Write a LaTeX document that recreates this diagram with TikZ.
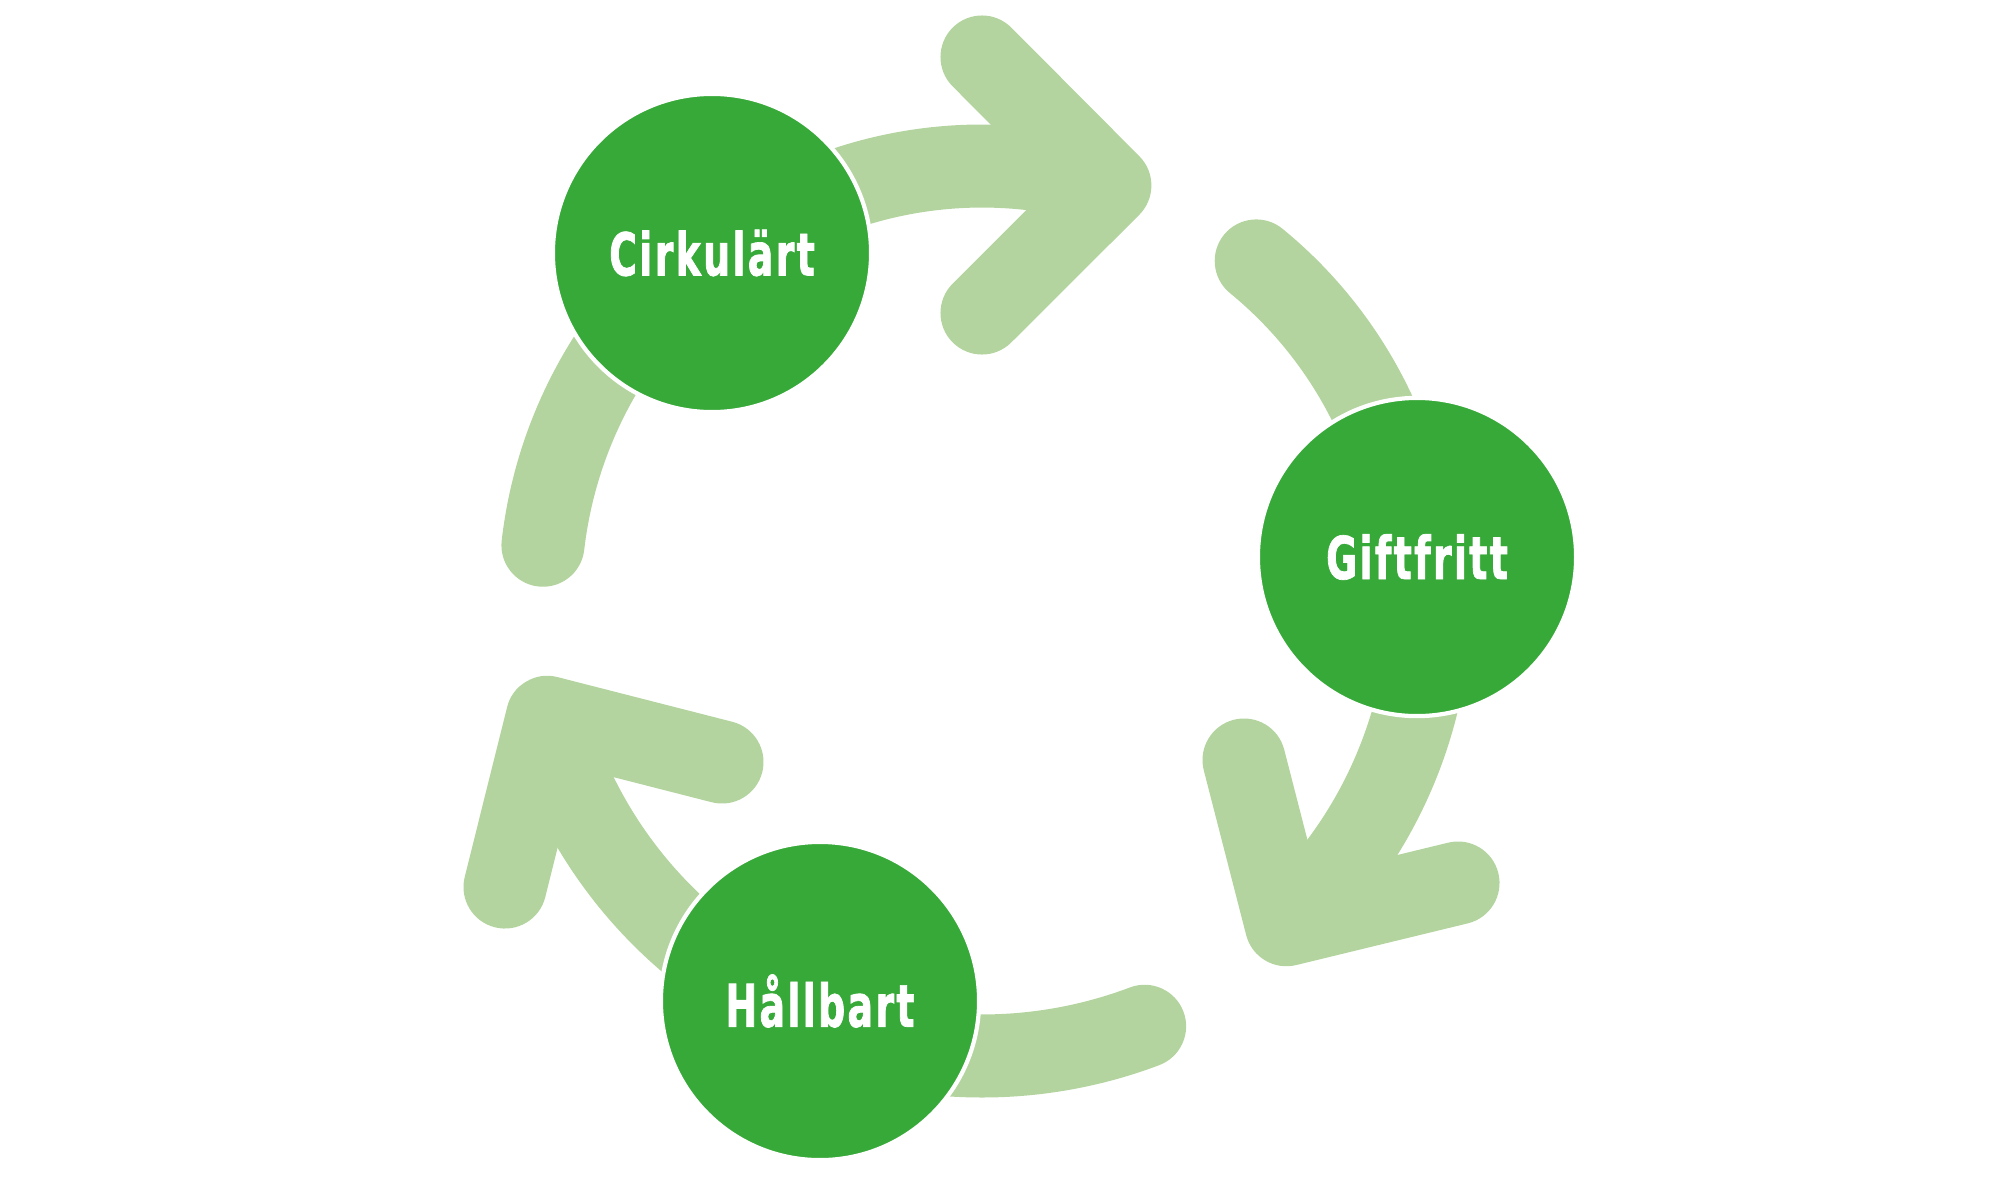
\documentclass[tikz,border=0pt]{standalone}
\usepackage{fontspec}
\usetikzlibrary{calc}
\newfontfamily\labfont[FakeStretch=0.64,LetterSpace=4,FakeBold=1.2]{DejaVu Sans}
\definecolor{nodegreen}{RGB}{54,169,56}
\definecolor{arcgreen}{RGB}{179,212,158}
\begin{document}
\begin{tikzpicture}[x=0.01cm,y=-0.01cm,
  band/.style={draw=arcgreen, line width=0.83cm},
  roundband/.style={band, line cap=round},
  headstyle/.style={band, line cap=round, line join=round},
  stage/.style={circle, fill=nodegreen, draw=white, line width=1.2pt,
    minimum size=3.18cm, inner sep=0pt, text=white,
    font=\labfont\bfseries\fontsize{16.8}{20}\selectfont}]
\useasboundingbox (0,0) rectangle (2000,1200);
\coordinate (O) at (982,596);
% arc start points
\coordinate (a0) at ($(O)+(232:430)$);
\coordinate (b0) at ($(O)+(309.3:433)$);
\coordinate (c0) at ($(O)+(355:448)$);
\coordinate (d0) at ($(O)+(69.3:460)$);
\coordinate (e0) at ($(O)+(111.8:452)$);
\coordinate (f0) at ($(O)+(186.6:442)$);
% chevron points
\coordinate (U1) at (982,57);
\coordinate (V1) at ($(O)+(287.3:430)$);
\coordinate (L1) at (982,313);
\coordinate (U2) at (1244,760);
\coordinate (V2) at ($(O)+(47.2:448)$);
\coordinate (L2) at (1458,883);
\coordinate (U3) at (505,887);
\coordinate (V3) at ($(O)+(164.4:451.3)$);
\coordinate (L3) at (722,762);
% shafts
\draw[band] (a0) arc[start angle=232, end angle=287.3, radius=430];
\draw[band] (c0) arc[start angle=355, end angle=407.2, radius=448];
\draw[band] (e0) arc[start angle=111.8, end angle=164.4, radius=452];
% tails
\draw[roundband] (b0) arc[start angle=309.3, end angle=355, radius=433];
\draw[roundband] (d0) arc[start angle=69.3, end angle=111.8, radius=460];
\draw[roundband] (f0) arc[start angle=186.6, end angle=231.8, radius=442];
% heads
\draw[headstyle] (U1) -- (V1) -- (L1);
\draw[headstyle] (U2) -- (V2) -- (L2);
\draw[headstyle] (U3) -- (V3) -- (L3);
% stages
\node[stage] (cirk) at (712,253) {Cirkulärt};
\node[stage] (gift) at (1417,557) {Giftfritt};
\node[stage] (hall) at (820,1001) {Hållbart};
\end{tikzpicture}
\end{document}
